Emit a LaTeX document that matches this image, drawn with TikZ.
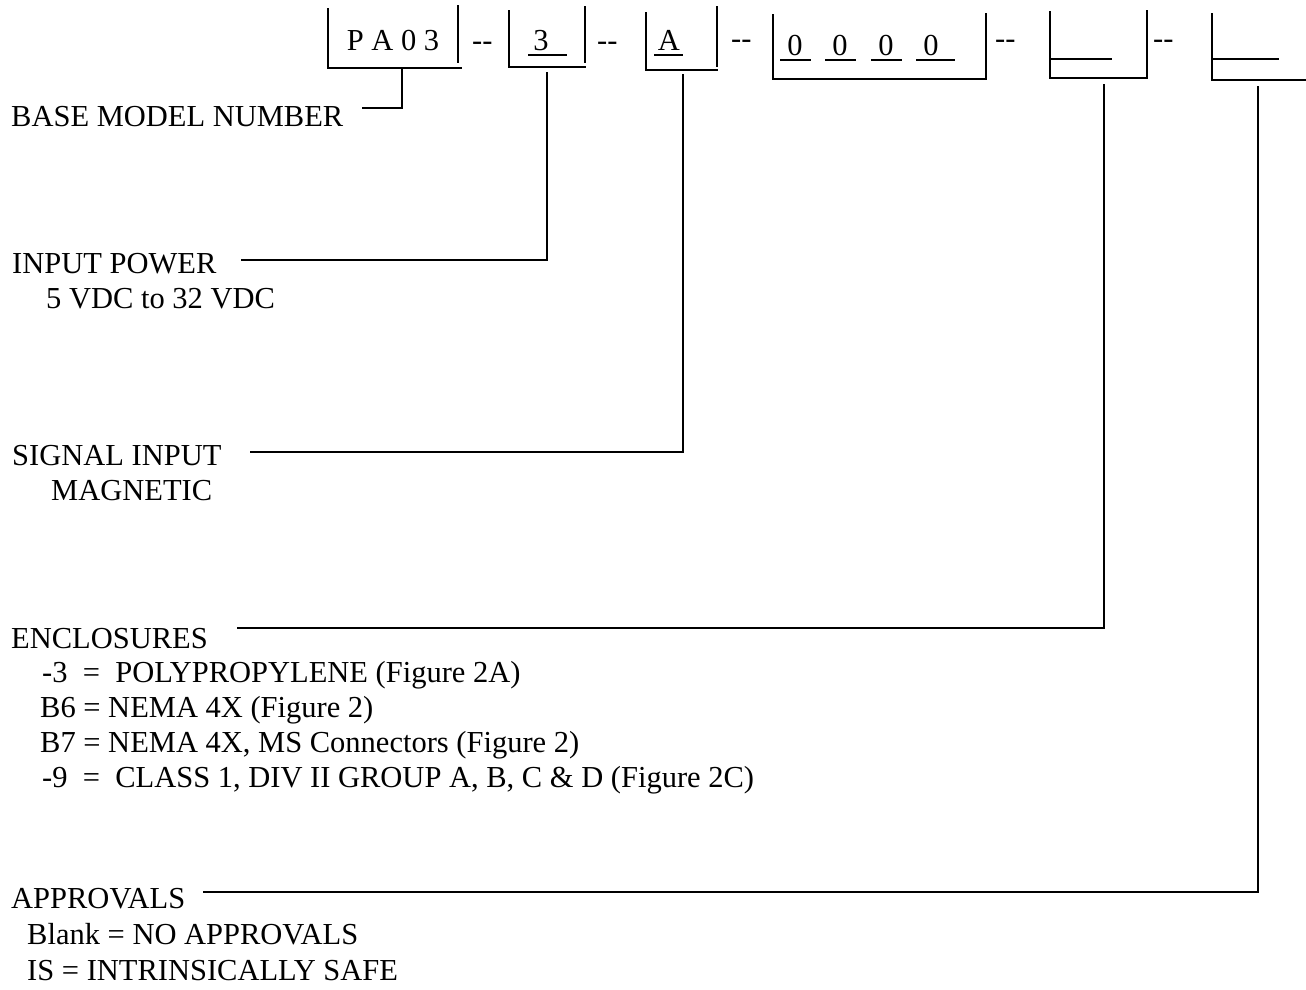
\documentclass[tikz,border=0pt]{standalone}
\usepackage{fontspec}
\setmainfont{Liberation Serif}
\begin{document}
\begin{tikzpicture}[x=1pt,y=-1pt,
  lbl/.style={anchor=base west,inner sep=0pt,font=\fontsize{30.5}{35}\selectfont},
  boxtxt/.style={anchor=base,inner sep=0pt,font=\fontsize{30.5}{35}\selectfont},
  brk/.style={line width=2.8pt},
  conn/.style={line width=2.6pt},
  uline/.style={line width=2pt}]
\useasboundingbox (0,0) rectangle (1306,989);

% --- code boxes ---
\draw[brk] (328,8) -- (328,68) -- (462,68);
\draw[brk] (458,5) -- (458,63);
\node[boxtxt] (t1) at (393,50) {P A 0 3};
\node[lbl] (sep1) at (472,50) {-{}-};

\draw[brk] (509,10) -- (509,67) -- (586,67);
\draw[brk] (585,6) -- (585,63);
\node[boxtxt] (t2) at (541,50) {3};
\draw[uline] (528,55) -- (567,55);
\node[lbl] (sep2) at (597,50) {-{}-};

\draw[brk] (646,12) -- (646,70) -- (718,70);
\draw[brk] (717,6) -- (717,67);
\node[boxtxt] (t3) at (669,50) {A};
\draw[uline] (654,55) -- (683,55);
\node[lbl] (sep3) at (731,48) {-{}-};

\draw[brk] (773,14) -- (773,79) -- (986,79) -- (986,13);
\node[boxtxt] (t4a) at (795,55) {0};
\node[boxtxt] (t4b) at (840,55) {0};
\node[boxtxt] (t4c) at (886,55) {0};
\node[boxtxt] (t4d) at (931,55) {0};
\draw[uline] (780,60) -- (811,60);
\draw[uline] (825,60) -- (856,60);
\draw[uline] (871,60) -- (902,60);
\draw[uline] (916,60) -- (955,60);
\node[lbl] (sep4) at (995,48) {-{}-};

\draw[brk] (1050,11) -- (1050,78) -- (1147,78) -- (1147,10);
\draw[uline] (1050,59) -- (1112,59);
\node[lbl] (sep5) at (1153,48) {-{}-};

\draw[brk] (1212,13) -- (1212,80) -- (1306,80);
\draw[uline] (1212,59) -- (1279,59);

% --- stem points and line ends ---
\coordinate (s1) at (402,68);
\coordinate (s2) at (547,72);
\coordinate (s3) at (683,74);
\coordinate (s5) at (1104,84);
\coordinate (s6) at (1258,86);
\coordinate (c1) at (362,108);
\coordinate (c2) at (241,260);
\coordinate (c3) at (250,452);
\coordinate (c4) at (237,628);
\coordinate (c5) at (203,892);

% --- labels ---
\node[lbl] (base) at (11,126) {BASE MODEL NUMBER};
\node[lbl] (inp) at (12,273) {INPUT POWER};
\node[lbl] (inp2) at (46,308) {5 VDC to 32 VDC};
\node[lbl] (sig) at (12,465) {SIGNAL INPUT};
\node[lbl] (sig2) at (51,500) {MAGNETIC};
\node[lbl] (enc) at (11,648) {ENCLOSURES};
\node[lbl] (enc1) at (42,682) {-3\ \ =\ \ POLYPROPYLENE (Figure 2A)};
\node[lbl] (enc2) at (40,717) {B6 = NEMA 4X (Figure 2)};
\node[lbl] (enc3) at (40,752) {B7 = NEMA 4X, MS Connectors (Figure 2)};
\node[lbl] (enc4) at (42,787) {-9\ \ =\ \ CLASS 1, DIV II GROUP A, B, C \& D (Figure 2C)};
\node[lbl] (app) at (11,908) {APPROVALS};
\node[lbl] (app1) at (27,944) {Blank = NO APPROVALS};
\node[lbl] (app2) at (27,980) {IS = INTRINSICALLY SAFE};

% --- connectors ---
\draw[conn] (c1) -| (s1);
\draw[conn] (c2) -| (s2);
\draw[conn] (c3) -| (s3);
\draw[conn] (c4) -| (s5);
\draw[conn] (c5) -| (s6);
\end{tikzpicture}
\end{document}
